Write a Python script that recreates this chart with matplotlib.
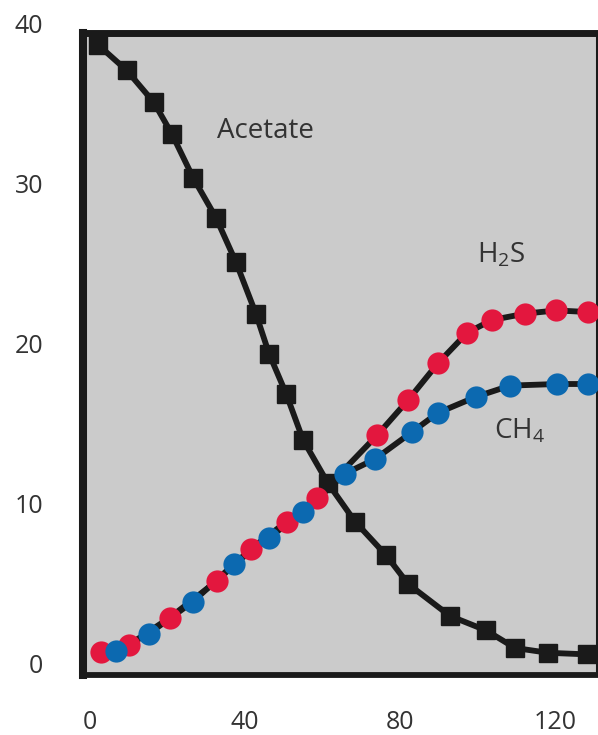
import matplotlib
matplotlib.use("Agg")
import matplotlib.pyplot as plt
import matplotlib.transforms as mtransforms

plt.rcParams['font.family'] = ['Open Sans', 'DejaVu Sans']
plt.rcParams['mathtext.fontset'] = 'custom'
plt.rcParams['mathtext.rm'] = 'Open Sans'

# Data
acetate_x = [2.1, 9.5, 16.5, 21.2, 26.6, 32.5, 37.7, 42.8, 46.2, 50.6, 55.0, 61.4,
             68.4, 76.4, 82.1, 92.9, 102.2, 109.7, 118.2, 128.3]
acetate_y = [38.7, 37.1, 35.1, 33.1, 30.4, 27.9, 25.1, 21.9, 19.4, 16.9, 14.0, 11.3,
             8.9, 6.8, 5.0, 3.0, 2.1, 1.0, 0.7, 0.6]

h2s_x = [2.8, 10.1, 20.6, 32.8, 41.5, 50.8, 58.6, 74.1, 82.1, 89.8, 97.3, 103.7,
         112.3, 120.3, 128.5]
h2s_y = [0.75, 1.2, 2.9, 5.2, 7.2, 8.9, 10.4, 14.3, 16.5, 18.8, 20.7, 21.5,
         21.9, 22.1, 22.0]

ch4_x = [6.7, 15.2, 26.6, 37.2, 46.2, 55.0, 65.8, 73.5, 83.1, 89.8, 99.6, 108.4,
         120.5, 128.5]
ch4_y = [0.8, 1.9, 3.9, 6.25, 7.9, 9.5, 11.9, 12.8, 14.5, 15.7, 16.7, 17.4,
         17.5, 17.5]

xticks = [0, 40, 80, 120]
yticks = [0, 10, 20, 30, 40]

RED = '#e3173e'
BLUE = '#0c69b0'
TXT = '#333333'
BLK = '#1a1a1a'

fig = plt.figure(figsize=(5.98, 7.35), dpi=100)
ax = fig.add_axes([0.1388, 0.0816, 0.8587, 0.8735])
ax.set_facecolor('#cbcbcb')

ax.plot(acetate_x, acetate_y, color=BLK, lw=4.2, marker='s', ms=13.5,
        mfc=BLK, mec=BLK, zorder=2, clip_on=False)
ax.plot(h2s_x, h2s_y, color=BLK, lw=4.2, zorder=3, clip_on=False)
ax.plot(ch4_x, ch4_y, color=BLK, lw=4.2, zorder=3, clip_on=False)
ax.plot(h2s_x, h2s_y, ls='none', marker='o', ms=16, mfc=RED, mec='none', zorder=4, clip_on=False)
ax.plot(ch4_x, ch4_y, ls='none', marker='o', ms=16, mfc=BLUE, mec='none', zorder=5, clip_on=False)

ax.set_xlim(-1.8, 130.7)
ax.set_ylim(-0.69, 39.44)
ax.set_xticks(xticks)
ax.set_xticklabels([str(v) for v in xticks])
ax.tick_params(axis='x', length=0, labelsize=18, colors=TXT, pad=25)
ax.set_yticks([])

# y tick labels (the top one sits above the frame, as in the original)
ytrans = mtransforms.offset_copy(ax.get_yaxis_transform(), fig=fig,
                                 x=-28.5, y=-6.4, units='points')
for v in yticks:
    ax.text(0, v, str(v), transform=ytrans, ha='right', va='baseline',
            fontsize=18, color=TXT, clip_on=False)

for side, w in [('left', 5.8), ('top', 5.0), ('bottom', 4.2), ('right', 2.2)]:
    ax.spines[side].set_linewidth(w)
    ax.spines[side].set_color(BLK)

ax.text(45.2, 32.9, 'Acetate', fontsize=20, color=TXT, ha='center', va='baseline')
ax.text(106.2, 25.1, r'H$_\mathrm{2}$S', fontsize=20, color=TXT, ha='center', va='baseline')
ax.text(110.7, 14.1, r'CH$_\mathrm{4}$', fontsize=20, color=TXT, ha='center', va='baseline')

fig.savefig('out.png', dpi=100)
